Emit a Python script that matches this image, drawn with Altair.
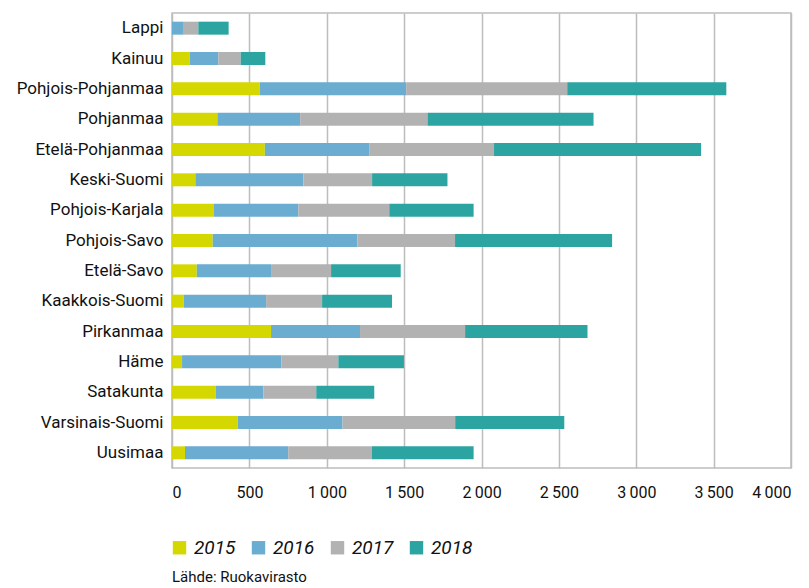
import altair as alt
import pandas as pd

regions = ["Lappi", "Kainuu", "Pohjois-Pohjanmaa", "Pohjanmaa", "Etelä-Pohjanmaa",
           "Keski-Suomi", "Pohjois-Karjala", "Pohjois-Savo", "Etelä-Savo",
           "Kaakkois-Suomi", "Pirkanmaa", "Häme", "Satakunta", "Varsinais-Suomi", "Uusimaa"]
years = ["2015", "2016", "2017", "2018"]
v2015 = [0, 114, 567, 293, 600, 151, 271, 263, 160, 76, 640, 65, 282, 425, 84]
v2016 = [71, 185, 946, 535, 677, 698, 545, 935, 480, 532, 575, 642, 308, 677, 667]
v2017 = [99, 145, 1041, 823, 804, 444, 588, 631, 388, 362, 679, 368, 342, 728, 541]
v2018 = [196, 159, 1028, 1073, 1338, 487, 545, 1015, 450, 452, 791, 424, 375, 705, 657]
colors = ["#D5D800", "#6BADD1", "#B2B2B2", "#2CA5A2"]
x_ticks = [0, 500, 1000, 1500, 2000, 2500, 3000, 3500, 4000]
source = "Lähde: Ruokavirasto"

rows = []
for yi, (yr, vals) in enumerate(zip(years, [v2015, v2016, v2017, v2018])):
    for r, v in zip(regions, vals):
        rows.append({"alue": r, "vuosi": yr, "arvo": v, "ord": yi})
df = pd.DataFrame(rows)

FONT = "Roboto"

bars = alt.Chart(df).mark_bar(size=13).encode(
    x=alt.X("arvo:Q", stack="zero",
            scale=alt.Scale(domain=[0, 4000], nice=False),
            axis=alt.Axis(values=x_ticks, title=None, tickSize=0, domain=False,
                          grid=True, gridColor="#BDBDBD", gridWidth=1.5,
                          labelFont=FONT, labelFontSize=16, labelColor="#111111",
                          labelPadding=16,
                          labelExpr="replace(format(datum.value, ','), ',', '\u2009')")),
    y=alt.Y("alue:N", sort=regions,
            axis=alt.Axis(title=None, ticks=False, domain=False,
                          labelFont=FONT, labelFontSize=17, labelColor="#111111",
                          labelPadding=9)),
    color=alt.Color("vuosi:N", scale=alt.Scale(domain=years, range=colors),
                    legend=alt.Legend(title=None, orient="none", direction="horizontal",
                                      legendX=-2, legendY=525,
                                      symbolType="square", symbolSize=180,
                                      symbolStrokeWidth=0,
                                      labelFont=FONT, labelFontSize=19,
                                      labelFontStyle="italic", labelColor="#111111",
                                      labelOffset=5, columnPadding=13)),
    order=alt.Order("ord:Q"),
)

src = alt.Chart(pd.DataFrame({"t": [source]})).mark_text(
    align="left", baseline="top", font=FONT, fontSize=15, color="#111111"
).encode(x=alt.value(0), y=alt.value(557), text="t:N")

chart = alt.layer(bars, src).properties(
    width=619, height=455,
    padding={"left": 164, "top": 5, "right": 10, "bottom": 130},
    autosize=alt.AutoSizeParams(type="none"),
).configure_view(stroke="#BDBDBD", strokeWidth=1.5)

chart.save("out.html", embed_options={"renderer": "svg", "actions": False})
